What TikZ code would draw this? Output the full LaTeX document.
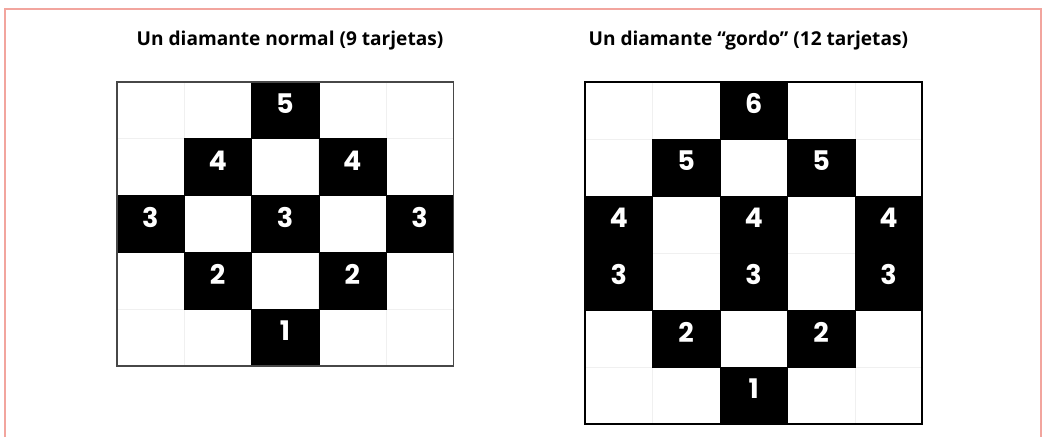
\documentclass[tikz,border=0pt]{standalone}
\usepackage{fontspec}
\setmainfont{Open Sans}
\newfontfamily\titlefont{Open Sans}
\newfontfamily\digitfont{Poppins}
\definecolor{framepink}{HTML}{F2A59E}
\definecolor{gridfaint}{HTML}{F0F0F0}
\begin{document}
\begin{tikzpicture}[x=1pt,y=-1pt,
  blackcell/.style={fill=black,draw=black,line width=0.3pt,inner sep=0pt},
  digit/.style={text=white,inner sep=0pt,yshift=6.5pt,font=\digitfont\bfseries\fontsize{27}{27}\selectfont},
  titletext/.style={font=\titlefont\bfseries\fontsize{19.1}{21}\selectfont,anchor=base,inner sep=0pt}]
\useasboundingbox (0,0) rectangle (1043,437);
% frame
\draw[framepink,line width=1.6pt] (5,437) -- (5,9) -- (1041,9) -- (1041,437);
% titles
\node[titletext] (t1) at (290,45) {Un diamante normal (9 tarjetas)};
\node[titletext] (t2) at (748.3,45) {Un diamante “gordo” (12 tarjetas)};
% ---------- left grid ----------
\begin{scope}[shift={(116.7,81.7)}]
  \def\cw{67.32}\def\rh{56.86}
  \foreach \i in {1,...,4} \draw[gridfaint,line width=0.5pt] (\i*\cw,0) -- (\i*\cw,5*\rh);
  \foreach \j in {1,...,4} \draw[gridfaint,line width=0.5pt] (0,\j*\rh) -- (5*\cw,\j*\rh);
  \foreach \c/\r/\n/\nm in {2/0/5/La, 1/1/4/Lb, 3/1/4/Lc, 0/2/3/Ld, 2/2/3/Le, 4/2/3/Lf, 1/3/2/Lg, 3/3/2/Lh, 2/4/1/Li}{
    \node[blackcell,minimum width=\cw pt,minimum height=\rh pt] (\nm) at ({(\c+0.5)*\cw},{(\r+0.5)*\rh}) {};
    \node[digit] (\nm-n) at (\nm.center) {\n};}
  \draw[black!72,line width=1.6pt] (0,0) rectangle (5*\cw,5*\rh);
\end{scope}
% ---------- right grid ----------
\begin{scope}[shift={(585,81.7)}]
  \def\cw{67.46}\def\rh{57.05}
  \foreach \i in {1,...,4} \draw[gridfaint,line width=0.5pt] (\i*\cw,0) -- (\i*\cw,6*\rh);
  \foreach \j in {1,...,5} \draw[gridfaint,line width=0.5pt] (0,\j*\rh) -- (5*\cw,\j*\rh);
  \foreach \c/\r/\n/\nm in {2/0/6/Ra, 1/1/5/Rb, 3/1/5/Rc, 0/2/4/Rd, 2/2/4/Re, 4/2/4/Rf, 0/3/3/Rg, 2/3/3/Rh, 4/3/3/Ri, 1/4/2/Rj, 3/4/2/Rk, 2/5/1/Rl}{
    \node[blackcell,minimum width=\cw pt,minimum height=\rh pt] (\nm) at ({(\c+0.5)*\cw},{(\r+0.5)*\rh}) {};
    \node[digit] (\nm-n) at (\nm.center) {\n};}
  \draw[black,line width=2pt] (0,0) rectangle (5*\cw,6*\rh);
\end{scope}
\end{tikzpicture}
\end{document}
